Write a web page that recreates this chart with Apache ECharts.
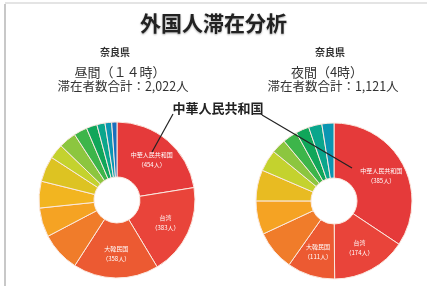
<!DOCTYPE html>
<html>
<head>
<meta charset="utf-8">
<script src="https://cdn.jsdelivr.net/npm/echarts@6/dist/echarts.min.js"></script>
<style>
  html, body { margin: 0; padding: 0; background: #fff; }
  #chart { width: 427px; height: 286px; }
</style>
</head>
<body>
<div id="chart"></div>
<script>
  // 昼間（14時）
  const dayNames = ['中華人民共和国', '台湾', '大韓民国', 'ベトナム', 'フィリピン', '米国', 'タイ',
    'インドネシア', 'ブラジル', 'ネパール', '英国', 'オーストラリア', 'フランス', 'その他'];
  const dayValues = [454, 383, 358, 166, 122, 112, 107, 62, 73, 56, 45, 34, 28, 22];
  const dayColors = ['#e53a3a', '#e9443a', '#ec5a32', '#f07c2a', '#f5a323', '#f2b520', '#ddc322',
    '#c4d22e', '#8cc63f', '#3db54a', '#10a65a', '#0aa68c', '#0b96b2', '#1a6fbc'];

  // 夜間（4時）
  const nightNames = ['中華人民共和国', '台湾', '大韓民国', 'ベトナム', 'フィリピン', '米国', 'タイ',
    'インドネシア', 'ブラジル', 'ネパール', '英国', 'その他'];
  const nightValues = [385, 174, 111, 93, 78, 72, 50, 34, 34, 31, 31, 28];
  const nightColors = ['#e53a3a', '#e9443a', '#ec5a32', '#f07c2a', '#f5a323', '#e8bb22', '#c4d22e',
    '#8cc63f', '#3db54a', '#10a65a', '#0aa68c', '#0b96b2'];

  const labelShown = 3;

  function buildData(names, values, colors) {
    return names.map(function (n, i) {
      return {
        name: n,
        value: values[i],
        itemStyle: { color: colors[i] },
        label: { show: i < labelShown }
      };
    });
  }

  function pieSeries(center, names, values, colors) {
    return {
      type: 'pie',
      center: center,
      radius: [23, 78],
      startAngle: 90,
      clockwise: true,
      silent: true,
      animation: false,
      itemStyle: { borderColor: '#fbe9e0', borderWidth: 1 },
      label: {
        position: 'inside',
        color: '#fff',
        fontSize: 6,
        lineHeight: 10,
        fontFamily: 'Noto Sans CJK JP',
        formatter: function (p) { return p.name + '\n（' + p.value + '人）'; }
      },
      labelLine: { show: false },
      data: buildData(names, values, colors)
    };
  }

  const chart = echarts.init(document.getElementById('chart'));
  const jp = 'Noto Sans CJK JP';
  const option = {
    backgroundColor: '#fff',
    title: [
      { text: '外国人滞在分析', left: 'center', top: 8,
        textStyle: { fontFamily: jp, fontSize: 21, fontWeight: 'bold', color: '#222',
          textShadowColor: 'rgba(0,0,0,0.35)', textShadowBlur: 2, textShadowOffsetY: 1 } },
      { text: '奈良県', left: 110, top: 42, textAlign: 'center',
        textStyle: { fontFamily: jp, fontSize: 10, fontWeight: 'bold', color: '#333' } },
      { text: '奈良県', left: 325, top: 42, textAlign: 'center',
        textStyle: { fontFamily: jp, fontSize: 10, fontWeight: 'bold', color: '#333' } },
      { text: '昼間（１４時）', left: 115, top: 61, textAlign: 'center',
        textStyle: { fontFamily: jp, fontSize: 13, fontWeight: 'normal', color: '#333' } },
      { text: '滞在者数合計：2,022人', left: 118, top: 75, textAlign: 'center',
        textStyle: { fontFamily: jp, fontSize: 12.5, fontWeight: 'normal', color: '#333' } },
      { text: '夜間（4時）', left: 322, top: 61, textAlign: 'center',
        textStyle: { fontFamily: jp, fontSize: 13, fontWeight: 'normal', color: '#333' } },
      { text: '滞在者数合計：1,121人', left: 328, top: 75, textAlign: 'center',
        textStyle: { fontFamily: jp, fontSize: 12.5, fontWeight: 'normal', color: '#333' } },
      { text: '中華人民共和国', left: 213, top: 97, textAlign: 'center',
        textStyle: { fontFamily: jp, fontSize: 13, fontWeight: 'bold', color: '#222' } }
    ],
    graphic: [
      { type: 'line', shape: { x1: 5, y1: 4, x2: 5, y2: 286 },
        style: { stroke: '#c8c8c8', lineWidth: 2 }, z: 100 },
      { type: 'line', shape: { x1: 5, y1: 3, x2: 427, y2: 3 },
        style: { stroke: '#e4e4e4', lineWidth: 2 }, z: 100 },
      { type: 'line', shape: { x1: 173, y1: 114, x2: 152, y2: 152 },
        style: { stroke: '#222', lineWidth: 1.2 }, z: 100 },
      { type: 'line', shape: { x1: 262, y1: 115, x2: 352, y2: 168 },
        style: { stroke: '#222', lineWidth: 1.2 }, z: 100 }
    ],
    series: [
      pieSeries([117, 200], dayNames, dayValues, dayColors),
      pieSeries([334, 201], nightNames, nightValues, nightColors)
    ]
  };
  chart.setOption(option);
</script>
</body>
</html>
